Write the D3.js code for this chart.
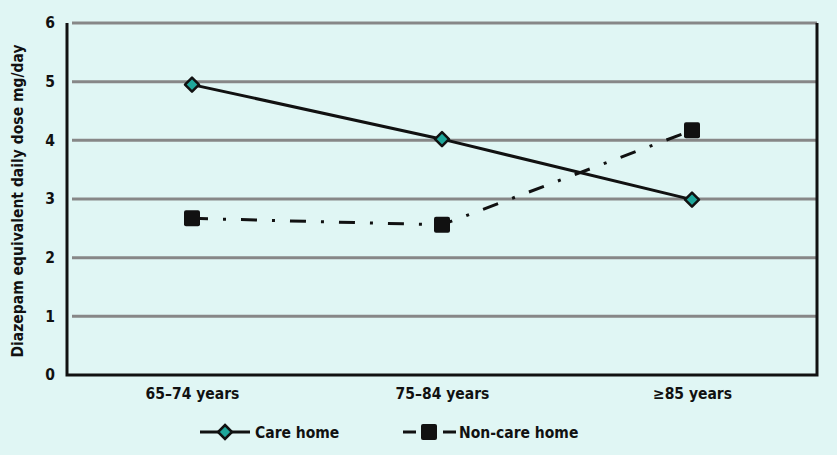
<!DOCTYPE html>
<html lang="en">
<head>
<meta charset="utf-8">
<title>Diazepam equivalent daily dose</title>
<script src="https://cdn.jsdelivr.net/npm/d3@7"></script>
<style>
  html, body { margin: 0; padding: 0; background: #e0f6f4; }
  svg text { font-family: "DejaVu Sans Condensed", "Roboto", sans-serif; font-weight: bold; fill: #111; }
</style>
</head>
<body>
<script>
// data
var categories = ["65\u201374 years", "75\u201384 years", "\u226585 years"];
var careHome = [4.95, 4.02, 2.99];
var nonCareHome = [2.67, 2.56, 4.17];
var yTicks = [0, 1, 2, 3, 4, 5, 6];

var width = 837, height = 455;
var margin = { top: 23, right: 20, bottom: 80, left: 67 };

var svg = d3.select("body").append("svg")
    .attr("width", width)
    .attr("height", height);

svg.append("rect")
    .attr("width", width).attr("height", height)
    .attr("fill", "#e0f6f4");

var x = d3.scalePoint()
    .domain(categories)
    .range([margin.left, width - margin.right])
    .padding(0.5);

var y = d3.scaleLinear()
    .domain([0, 6])
    .range([height - margin.bottom, margin.top]);

// gridlines
svg.append("g")
    .selectAll("line")
    .data(yTicks.filter(function(d) { return d > 0; }))
    .enter().append("line")
    .attr("x1", margin.left + 5)
    .attr("x2", width - margin.right)
    .attr("y1", function(d) { return y(d); })
    .attr("y2", function(d) { return y(d); })
    .attr("stroke", "#878787")
    .attr("stroke-width", 3);

// plot frame: left, bottom, right
svg.append("path")
    .attr("d", "M" + margin.left + "," + y(6) +
        "V" + y(0) + "H" + (width - margin.right) + "V" + y(6))
    .attr("fill", "none")
    .attr("stroke", "#111")
    .attr("stroke-width", 3);

// y axis labels
var yAxis = d3.axisLeft(y).tickValues(yTicks).tickFormat(d3.format("d"))
    .tickSize(0).tickPadding(12);
var gy = svg.append("g")
    .attr("transform", "translate(" + margin.left + ",0)")
    .call(yAxis);
gy.select(".domain").remove();
gy.selectAll("text")
    .style("font-size", "15.5px")
    .style("font-family", "'DejaVu Sans Condensed', sans-serif")
    .style("font-weight", "bold")
    .attr("fill", "#111");

// x axis labels
var xAxis = d3.axisBottom(x).tickSize(0).tickPadding(13);
var gx = svg.append("g")
    .attr("transform", "translate(0," + y(0) + ")")
    .call(xAxis);
gx.select(".domain").remove();
gx.selectAll("text")
    .style("font-size", "15.5px")
    .style("font-family", "'DejaVu Sans Condensed', sans-serif")
    .style("font-weight", "bold")
    .attr("fill", "#111");

// y axis title
svg.append("text")
    .attr("transform", "translate(23," + ((y(0) + y(6)) / 2 + 2) + ") rotate(-90)")
    .attr("text-anchor", "middle")
    .style("font-size", "15.5px")
    .text("Diazepam equivalent daily dose mg/day");

var line = d3.line()
    .x(function(d, i) { return x(categories[i]); })
    .y(function(d) { return y(d); });

var dashPattern = "16,15,3,15";

// non-care home series
svg.append("path")
    .datum(nonCareHome)
    .attr("d", line)
    .attr("fill", "none")
    .attr("stroke", "#111")
    .attr("stroke-width", 3)
    .attr("stroke-dasharray", dashPattern);

svg.append("g")
    .selectAll("rect")
    .data(nonCareHome)
    .enter().append("rect")
    .attr("x", function(d, i) { return x(categories[i]) - 8; })
    .attr("y", function(d) { return y(d) - 8; })
    .attr("width", 16).attr("height", 16)
    .attr("rx", 2)
    .attr("fill", "#111");

// care home series
svg.append("path")
    .datum(careHome)
    .attr("d", line)
    .attr("fill", "none")
    .attr("stroke", "#111")
    .attr("stroke-width", 3);

var diamond = "M0,-7L7,0L0,7L-7,0Z";
svg.append("g")
    .selectAll("path")
    .data(careHome)
    .enter().append("path")
    .attr("d", diamond)
    .attr("transform", function(d, i) { return "translate(" + x(categories[i]) + "," + y(d) + ")"; })
    .attr("fill", "#1fa79b")
    .attr("stroke", "#111")
    .attr("stroke-width", 2.5)
    .attr("stroke-linejoin", "round");

// legend
var ly = 432;
var leg = svg.append("g");
leg.append("line")
    .attr("x1", 200).attr("x2", 250).attr("y1", ly).attr("y2", ly)
    .attr("stroke", "#111").attr("stroke-width", 3);
leg.append("path")
    .attr("d", diamond)
    .attr("transform", "translate(225," + ly + ")")
    .attr("fill", "#1fa79b").attr("stroke", "#111").attr("stroke-width", 2.5);
leg.append("text")
    .attr("x", 255).attr("y", ly + 5.5)
    .style("font-size", "15.5px")
    .text("Care home");

leg.append("line")
    .attr("x1", 403).attr("x2", 416).attr("y1", ly).attr("y2", ly)
    .attr("stroke", "#111").attr("stroke-width", 3);
leg.append("rect")
    .attr("x", 421).attr("y", ly - 8).attr("width", 16).attr("height", 16)
    .attr("rx", 2).attr("fill", "#111");
leg.append("line")
    .attr("x1", 443).attr("x2", 456).attr("y1", ly).attr("y2", ly)
    .attr("stroke", "#111").attr("stroke-width", 3);
leg.append("text")
    .attr("x", 459).attr("y", ly + 5.5)
    .style("font-size", "15.5px")
    .text("Non-care home");
</script>
</body>
</html>
